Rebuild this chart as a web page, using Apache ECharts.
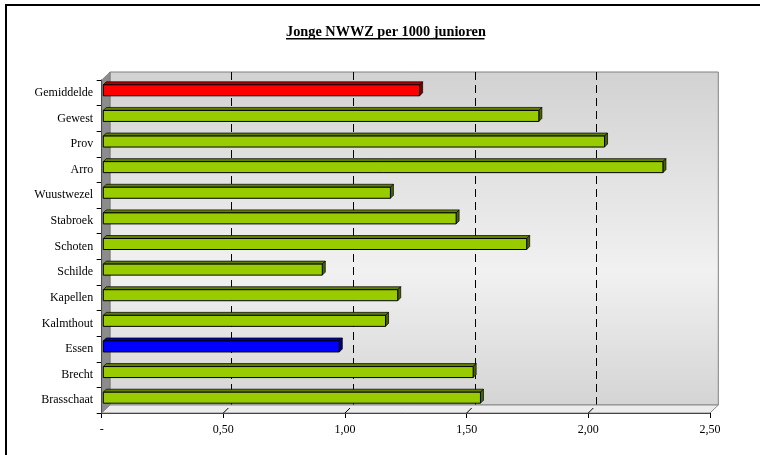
<!DOCTYPE html>
<html>
<head>
<meta charset="utf-8">
<script src="https://cdn.jsdelivr.net/npm/echarts@6/dist/echarts.min.js"></script>
<style>html,body{margin:0;padding:0;background:#fff;}#c{width:760px;height:455px;}</style>
</head>
<body>
<div id="c"></div>
<script>
var titleText = 'Jonge NWWZ per 1000 junioren';
var categories = ['Gemiddelde','Gewest','Prov','Arro','Wuustwezel','Stabroek','Schoten','Schilde','Kapellen','Kalmthout','Essen','Brecht','Brasschaat'];
var values = [1.30, 1.79, 2.06, 2.30, 1.18, 1.45, 1.74, 0.90, 1.21, 1.16, 0.97, 1.52, 1.55];
var tickValues = [0, 0.5, 1.0, 1.5, 2.0, 2.5];
var tickLabels = ['-', '0,50', '1,00', '1,50', '2,00', '2,50'];

var palette = {
  Gemiddelde: {front:'#ff0000', top:'#b00000', side:'#7a0000'},
  Essen: {front:'#0000ff', top:'#0000a8', side:'#000070'},
  other: {front:'#99cc00', top:'#5f7f00', side:'#4a6300'}
};
var serif = '"Liberation Serif", "DejaVu Serif", serif';

var chart = echarts.init(document.getElementById('c'), null, {renderer:'canvas'});
var barData = values.map(function(v, i){ return [v, i]; });
var floorMarks = tickValues.slice(1, tickValues.length - 1).map(function(v){ return [v, categories.length - 1]; });

chart.setOption({
  backgroundColor: '#ffffff',
  animation: false,
  title: {
    text: titleText,
    left: 281, top: 20.5,
    textStyle: {fontFamily: serif, fontWeight: 'bold', fontSize: 14.3, color: '#000'}
  },
  graphic: [
    {type:'rect', shape:{x:6, y:5, width:900, height:600}, style:{fill:'none', stroke:'#000', lineWidth:2}, z:0},
    {type:'line', shape:{x1:286, y1:38.8, x2:484.5, y2:38.8}, style:{stroke:'#000', lineWidth:1.5}, z:0},
    {type:'polygon', shape:{points:[[101.7,80],[110,72],[110,405],[101.7,413]]}, style:{fill:'#8c8c8c', stroke:'#6e6e6e', lineWidth:0.6}, z:1},
    {type:'polygon', shape:{points:[[101.7,413],[110,405],[718.3,405],[710,413]]}, style:{fill:'#ececec', stroke:'#8a8a8a', lineWidth:1}, z:1}
  ],
  grid: [
    {left:110, right:41.7, top:72, bottom:50, show:true, borderColor:'#808080', borderWidth:1,
     backgroundColor: new echarts.graphic.LinearGradient(0,0,0,1,[
       {offset:0, color:'#d2d2d2'}, {offset:0.6, color:'#f1f1f1'}, {offset:1, color:'#d4d4d4'}
     ])},
    {left:101.7, right:50, top:80, bottom:42}
  ],
  xAxis: [
    {gridIndex:0, type:'value', min:0, max:2.5, interval:0.5,
     axisLine:{show:false}, axisTick:{show:false}, axisLabel:{show:false},
     splitLine:{show:true, showMinLine:false, showMaxLine:false, lineStyle:{color:'#000', width:1, type:[8,5]}}},
    {gridIndex:1, type:'value', min:0, max:2.5, interval:0.5, position:'bottom',
     axisLine:{show:true, lineStyle:{color:'#000', width:1}},
     axisTick:{show:true, length:5, lineStyle:{color:'#000'}},
     splitLine:{show:false},
     axisLabel:{margin:11, fontFamily:serif, fontSize:12, color:'#000',
       formatter:function(v){ var i = tickValues.indexOf(Math.round(v*100)/100); return i >= 0 ? tickLabels[i] : ''; }}}
  ],
  yAxis: [
    {gridIndex:0, type:'category', data:categories, inverse:true, show:false},
    {gridIndex:1, type:'category', data:categories, inverse:true,
     axisLine:{show:true, lineStyle:{color:'#000', width:1}},
     axisTick:{show:true, length:5, lineStyle:{color:'#000'}},
     axisLabel:{margin:8.5, fontFamily:serif, fontSize:12, color:'#000'}}
  ],
  series: [
    {
      type:'custom', xAxisIndex:1, yAxisIndex:1, z:3, silent:true,
      data: floorMarks,
      renderItem: function(params, api){
        var p = api.coord([api.value(0), api.value(1)]);
        var b = api.size([0,1])[1];
        var y = p[1] + b/2;
        return {type:'line', shape:{x1:p[0], y1:y, x2:p[0]+5, y2:y-5}, style:{stroke:'#000', lineWidth:1}};
      }
    },
    {
      type:'custom', xAxisIndex:1, yAxisIndex:1, z:5,
      data: barData,
      encode: {x:0, y:1},
      renderItem: function(params, api){
        var v = api.value(0), ci = api.value(1);
        var p0 = api.coord([0, ci]), p1 = api.coord([v, ci]);
        var c = palette[categories[ci]] || palette.other;
        var h = 11, d = 3, off = 1.6;
        var x0 = p0[0] + off, x1 = p1[0] + off;
        var yc = p0[1] - 2.5;
        var t = yc - h/2, bt = yc + h/2;
        return {type:'group', children:[
          {type:'polygon', shape:{points:[[x0,t],[x0+d,t-d],[x1+d,t-d],[x1,t]]}, style:{fill:c.top, stroke:'#000', lineWidth:0.7}},
          {type:'polygon', shape:{points:[[x1,t],[x1+d,t-d],[x1+d,bt-d],[x1,bt]]}, style:{fill:c.side, stroke:'#000', lineWidth:0.7}},
          {type:'rect', shape:{x:x0, y:t, width:x1-x0, height:h}, style:{fill:c.front, stroke:'#000', lineWidth:1}}
        ]};
      }
    }
  ]
});
</script>
</body>
</html>
